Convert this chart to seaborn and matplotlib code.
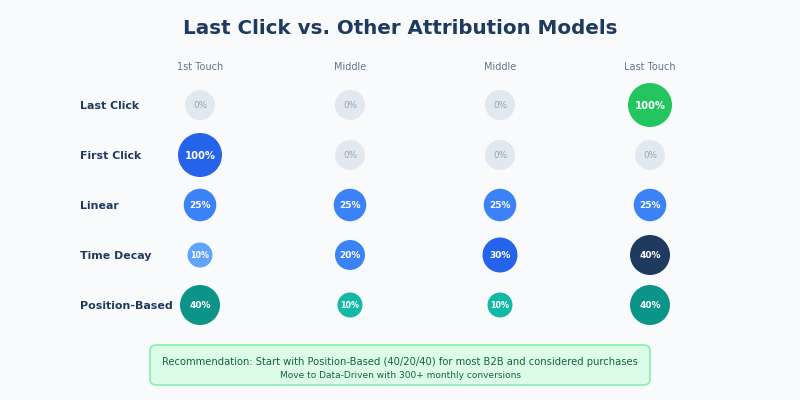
import matplotlib
matplotlib.use("Agg")
import matplotlib.pyplot as plt
import seaborn as sns
import pandas as pd
from matplotlib.patches import FancyBboxPatch

# ---- data ----
models = ["Last Click", "First Click", "Linear", "Time Decay", "Position-Based"]
touch_labels = ["1st Touch", "Middle", "Middle", "Last Touch"]
last_click = [0, 0, 0, 100]
first_click = [100, 0, 0, 0]
linear = [25, 25, 25, 25]
time_decay = [10, 20, 30, 40]
position_based = [40, 10, 10, 40]
title = "Last Click vs. Other Attribution Models"
rec_line1 = "Recommendation: Start with Position-Based (40/20/40) for most B2B and considered purchases"
rec_line2 = "Move to Data-Driven with 300+ monthly conversions"

# colours per cell (style)
last_click_colors = ["#e2e8f0", "#e2e8f0", "#e2e8f0", "#22c55e"]
first_click_colors = ["#2563eb", "#e2e8f0", "#e2e8f0", "#e2e8f0"]
linear_colors = ["#3b82f6"] * 4
time_decay_colors = ["#60a5fa", "#3b82f6", "#2563eb", "#1e3a5f"]
position_colors = ["#0d9488", "#14b8a6", "#14b8a6", "#0d9488"]

values = [last_click, first_click, linear, time_decay, position_based]
colors = [last_click_colors, first_click_colors, linear_colors, time_decay_colors, position_colors]

BG = "#f8fafc"
NAVY = "#1e3a5f"

sns.set_theme(style="white")
plt.rcParams["font.family"] = ["DejaVu Sans"]

fig = plt.figure(figsize=(8, 4), dpi=100, facecolor=BG)
ax = fig.add_axes([0, 0, 1, 1])
ax.set_facecolor(BG)
ax.set_xlim(0, 800)
ax.set_ylim(400, 0)
ax.axis("off")

col_x = [200 + 150 * i for i in range(len(touch_labels))]
row_y = [105 + 50 * j for j in range(len(models))]


def radius(v):
    return 15 if v == 0 else min(22, 10 + 0.25 * v)


rows = []
for j, m in enumerate(models):
    for i in range(len(touch_labels)):
        v = values[j][i]
        rows.append(dict(model=m, col=i, x=col_x[i], y=row_y[j], value=v,
                         color=colors[j][i], cell=f"{j}-{i}", r=radius(v)))
df = pd.DataFrame(rows)

px2pt = 72 / 100
sizes = {c: (2 * r * px2pt) ** 2 for c, r in zip(df["cell"], df["r"])}
palette = {c: col for c, col in zip(df["cell"], df["color"])}

sns.scatterplot(data=df, x="x", y="y", hue="cell", size="cell", palette=palette,
                sizes=sizes, legend=False, linewidth=0, ax=ax, zorder=3)

for _, row in df.iterrows():
    v = row["value"]
    r = row["r"]
    if v == 0:
        ax.text(row["x"], row["y"] + 0.8, f"{v}%", ha="center", va="center",
                fontsize=6.3, color="#94a3b8", zorder=4)
    else:
        fs = 7.2 if r >= 22 else (6.5 if r >= 15 else 5.8)
        ax.text(row["x"], row["y"] + 0.8, f"{v}%", ha="center", va="center",
                fontsize=fs, color="white", fontweight="bold", zorder=4)

for i, lab in enumerate(touch_labels):
    ax.text(col_x[i], 67, lab, ha="center", va="center", fontsize=7, color="#64748b")

for j, m in enumerate(models):
    ax.text(80, row_y[j] + 1, m, ha="left", va="center", fontsize=7.9,
            fontweight="bold", color=NAVY)

ax.text(400, 28, title, ha="center", va="center", fontsize=14.3,
        fontweight="bold", color=NAVY)

box = FancyBboxPatch((150, 345), 500, 40, boxstyle="round,pad=0,rounding_size=6",
                     facecolor="#dcfce7", edgecolor="#86efac", linewidth=1.2, zorder=2)
ax.add_patch(box)
ax.text(400, 362, rec_line1, ha="center", va="center", fontsize=7.2, color="#166534", zorder=3)
ax.text(400, 375, rec_line2, ha="center", va="center", fontsize=6.5, color="#166534", zorder=3)

fig.savefig("out.png", dpi=100, facecolor=BG)
